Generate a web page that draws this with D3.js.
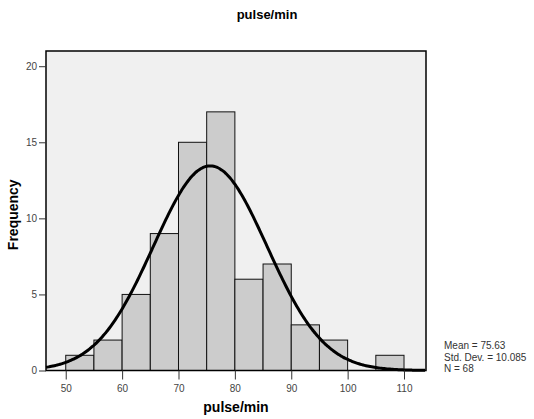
<!DOCTYPE html>
<html>
<head>
<meta charset="utf-8">
<script src="https://cdn.jsdelivr.net/npm/d3@7"></script>
<style>
  body { margin: 0; background: #fff; }
  text { font-family: "Liberation Sans", Arial, sans-serif; }
</style>
</head>
<body>
<svg id="chart" width="534" height="419"></svg>
<script>
'use strict';

// histogram bins (lower edge, width 5) and counts
var binStarts = [50, 55, 60, 65, 70, 75, 80, 85, 90, 95, 100, 105],
    counts = [1, 2, 5, 9, 15, 17, 6, 7, 3, 2, 0, 1],
    binWidth = 5,
    xTicks = [50, 60, 70, 80, 90, 100, 110],
    yTicks = [0, 5, 10, 15, 20],
    mean = 75.63,
    stdDev = 10.085,
    n = 68,
    statLines = ['Mean = 75.63', 'Std. Dev. = 10.085', 'N = 68'];

var svg = d3.select('#chart'),
    plotLeft = 46,
    plotRight = 426,
    plotTop = 51,
    plotBottom = 370.5,
    x,
    y,
    curve,
    line;

x = d3.scaleLinear().domain([46.5, 113.9]).range([plotLeft, plotRight]);
y = d3.scaleLinear().domain([0, 21]).range([plotBottom, plotTop]);

// plot background
svg.append('rect')
    .attr('x', plotLeft)
    .attr('y', plotTop)
    .attr('width', plotRight - plotLeft)
    .attr('height', plotBottom - plotTop)
    .attr('fill', '#f0f0f0');

// bars
svg.append('g')
  .selectAll('rect')
  .data(binStarts.map(function (s, i) { return {x0: s, count: counts[i]}; })
      .filter(function (d) { return d.count > 0; }))
  .enter().append('rect')
    .attr('x', function (d) { return x(d.x0); })
    .attr('y', function (d) { return y(d.count); })
    .attr('width', function (d) { return x(d.x0 + binWidth) - x(d.x0); })
    .attr('height', function (d) { return y(0) - y(d.count); })
    .attr('fill', '#cccccc')
    .attr('stroke', '#111')
    .attr('stroke-width', 1);

// fitted normal curve from mean / std. dev.
curve = d3.range(46.5, 113.95, 0.25).map(function (v) {
  var z = (v - mean) / stdDev;
  return [v, n * binWidth / (stdDev * Math.sqrt(2 * Math.PI)) * Math.exp(-0.5 * z * z)];
});
line = d3.line()
    .x(function (d) { return x(d[0]); })
    .y(function (d) { return y(d[1]); })
    .curve(d3.curveBasis);

svg.append('path')
    .datum(curve)
    .attr('d', line)
    .attr('fill', 'none')
    .attr('stroke', '#000')
    .attr('stroke-width', 3);

// frame
svg.append('rect')
    .attr('x', plotLeft)
    .attr('y', plotTop)
    .attr('width', plotRight - plotLeft)
    .attr('height', plotBottom - plotTop)
    .attr('fill', 'none')
    .attr('stroke', '#000')
    .attr('stroke-width', 1.5);

// axes
var xAxis = svg.append('g')
    .attr('transform', 'translate(0,' + plotBottom + ')')
    .call(d3.axisBottom(x).tickValues(xTicks).tickSize(9).tickPadding(5));
var yAxis = svg.append('g')
    .attr('transform', 'translate(' + plotLeft + ',0)')
    .call(d3.axisLeft(y).tickValues(yTicks).tickSize(7).tickPadding(2));

[xAxis, yAxis].forEach(function (g) {
  g.select('.domain').remove();
  g.selectAll('line').attr('stroke', '#333');
  g.selectAll('text')
      .attr('fill', '#444')
      .style('font-size', '10px')
      .style('font-family', '"Liberation Sans", Arial, sans-serif');
});

// titles
svg.append('text')
    .attr('x', 267)
    .attr('y', 19)
    .attr('text-anchor', 'middle')
    .style('font-size', '13px')
    .style('font-weight', 'bold')
    .text('pulse/min');

svg.append('text')
    .attr('x', (plotLeft + plotRight) / 2)
    .attr('y', 412)
    .attr('text-anchor', 'middle')
    .style('font-size', '14px')
    .style('font-weight', 'bold')
    .text('pulse/min');

svg.append('text')
    .attr('transform', 'translate(18,' + ((plotTop + plotBottom) / 2 + 4) + ') rotate(-90)')
    .attr('text-anchor', 'middle')
    .style('font-size', '14px')
    .style('font-weight', 'bold')
    .text('Frequency');

// summary statistics
svg.append('g')
  .selectAll('text')
  .data(statLines)
  .enter().append('text')
    .attr('x', 444)
    .attr('y', function (d, i) { return 349 + i * 11.5; })
    .attr('fill', '#333')
    .style('font-size', '10px')
    .text(function (d) { return d; });
</script>
</body>
</html>
